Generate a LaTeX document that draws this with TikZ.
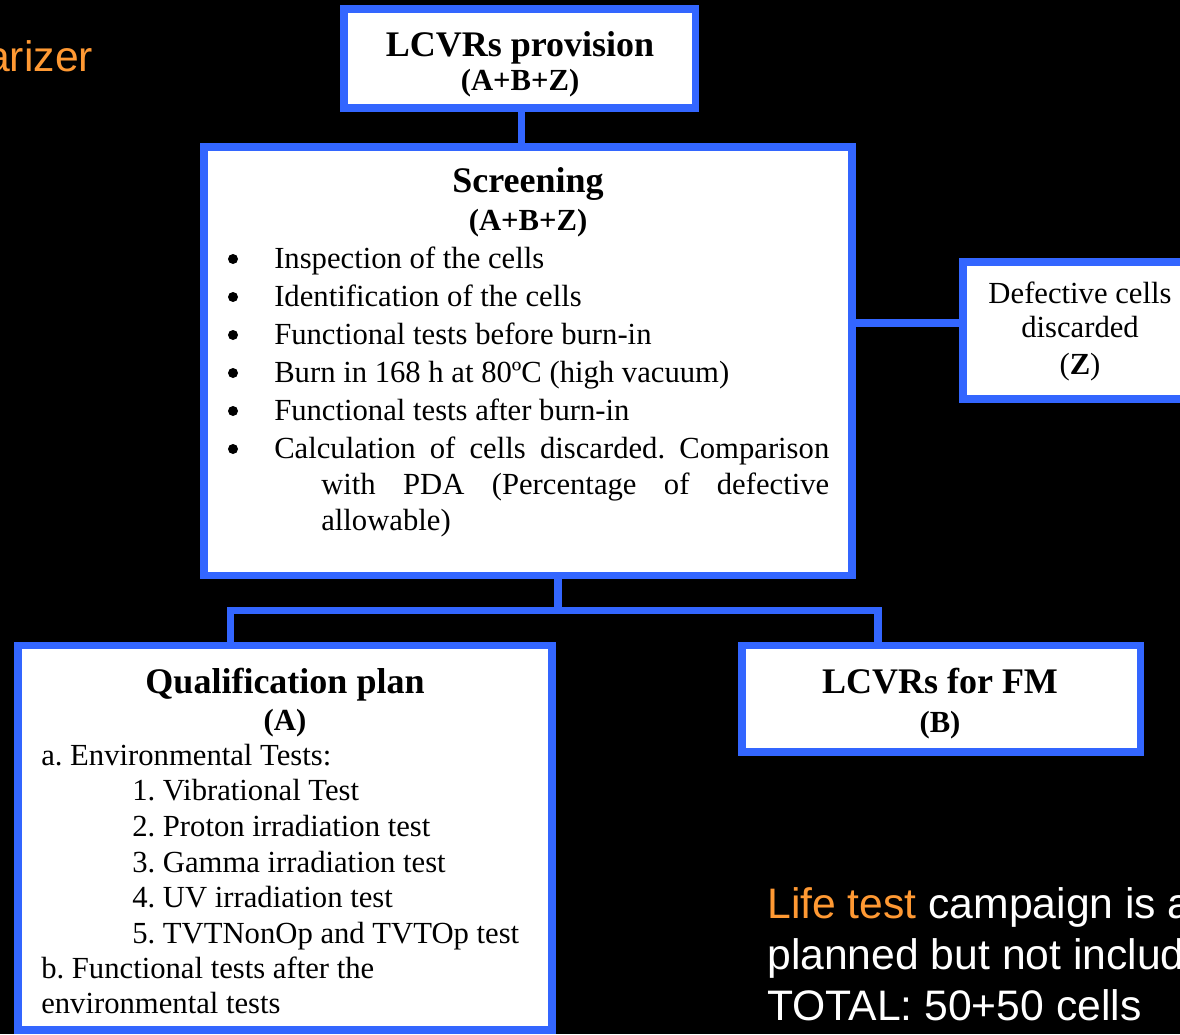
\documentclass[tikz,border=0pt]{standalone}
\usepackage{fontspec}
\setmainfont{Liberation Serif}
\setsansfont{Liberation Sans}
\definecolor{boxblue}{HTML}{3366FF}
\definecolor{accent}{HTML}{FF9933}
\frenchspacing
\begin{document}
\begin{tikzpicture}[x=0.75pt,y=-0.75pt,
  box/.style={draw=boxblue, line width=5.7pt, fill=white, rectangle,
    inner sep=0pt, outer sep=0pt, anchor=north west},
  link/.style={draw=boxblue, line width=5.7pt},
  dot/.style={circle, fill=black, inner sep=0pt, minimum size={10*0.75pt}},
  txt/.style={inner sep=0pt, anchor=base, font=\fontsize{23}{27}\selectfont},
  lft/.style={txt, anchor=base west},
  ttl/.style={inner sep=0pt, anchor=base, font=\fontsize{27}{32}\selectfont\bfseries},
  sub/.style={inner sep=0pt, anchor=base, font=\fontsize{23}{27}\selectfont\bfseries},
  note/.style={inner sep=0pt, anchor=base west, text=white,
    font=\sffamily\fontsize{32}{38}\selectfont}]

\useasboundingbox (0,0) rectangle (1180,1034);
\fill[black] (0,0) rectangle (1180,1034);
\clip (0,0) rectangle (1180,1034);

% boxes
\node[box, minimum width={351.5*0.75pt}, minimum height={99*0.75pt}] (prov) at (344,9) {};
\node[box, minimum width={648*0.75pt}, minimum height={428.5*0.75pt}] (scr) at (204,147) {};
\node[box, minimum width={260*0.75pt}, minimum height={137*0.75pt}] (def) at (963,262) {};
\node[box, minimum width={534*0.75pt}, minimum height={384.5*0.75pt}] (qual) at (18,645.5) {};
\node[box, minimum width={398.5*0.75pt}, minimum height={106.5*0.75pt}] (fm) at (742,645.5) {};

% connectors
\coordinate (provstem) at (521.5,0);
\coordinate (defrow) at (0,323);
\coordinate (fork) at (558,610.5);
\coordinate (qualdrop) at (230.5,0);
\coordinate (fmdrop) at (878,0);
\draw[link] (provstem |- prov.south) -- (provstem |- scr.north);
\draw[link] (scr.east |- defrow) -- (def.west |- defrow);
\draw[link] (fork |- scr.south) -- (fork);
\draw[link] (qualdrop |- qual.north) |- (fork) -| (fmdrop |- fm.north);

% provision
\node[ttl] (provT) at (520,57) {LCVRs provision};
\node[sub] (provS) at (520,91) {(A+B+Z)};

% screening
\node[ttl] (scrT) at (528,193) {Screening};
\node[sub] (scrS) at (528,231) {(A+B+Z)};
\foreach \y [count=\i] in {259,297,335,373,411,449}
  \node[dot] (bul\i) at (233,\y) {};
\node[lft] (scr1) at (274,268) {Inspection of the cells};
\node[lft] (scr2) at (274,306) {Identification of the cells};
\node[lft] (scr3) at (274,344) {Functional tests before burn-in};
\node[lft] (scr4) at (274,382) {Burn in 168 h at 80ºC (high vacuum)};
\node[lft] (scr5) at (274,420) {Functional tests after burn-in};
\node[lft] (scr6) at (274,458) {\makebox[{416.25pt}][s]{Calculation of cells discarded. Comparison}};
\node[lft] (scr7) at (321,494) {\makebox[{381pt}][s]{with PDA (Percentage of defective}};
\node[lft] (scr8) at (321,530) {allowable)};

% discarded
\node[txt] (def1) at (1080,303) {Defective cells};
\node[txt] (def2) at (1080,337) {discarded};
\node[txt] (def3) at (1080,374) {(\textbf{Z})};

% qualification
\node[ttl] (qualT) at (285,693) {Qualification plan};
\node[sub] (qualS) at (285,730) {(A)};
\node[lft] (q1) at (41,765) {a. Environmental Tests:};
\node[lft] (q2) at (132,800) {1. Vibrational Test};
\node[lft] (q3) at (132,836) {2. Proton irradiation test};
\node[lft] (q4) at (132,872) {3. Gamma irradiation test};
\node[lft] (q5) at (132,907) {4. UV irradiation test};
\node[lft] (q6) at (132,943) {5. TVTNonOp and TVTOp test};
\node[lft] (q7) at (41,978) {b. Functional tests after the};
\node[lft] (q8) at (41,1013) {environmental tests};

% flight models
\node[ttl] (fmT) at (940,693) {LCVRs for FM};
\node[sub] (fmS) at (940,732) {(B)};

% free text
\node[note, text=accent] (head) at (-14,72) {arizer};
\node[note] (life1) at (767,918) {\textcolor{accent}{Life test} campaign is a};
\node[note] (life2) at (767,969) {planned but not includ};
\node[note] (life3) at (767,1020) {TOTAL: 50+50 cells};
\end{tikzpicture}
\end{document}
